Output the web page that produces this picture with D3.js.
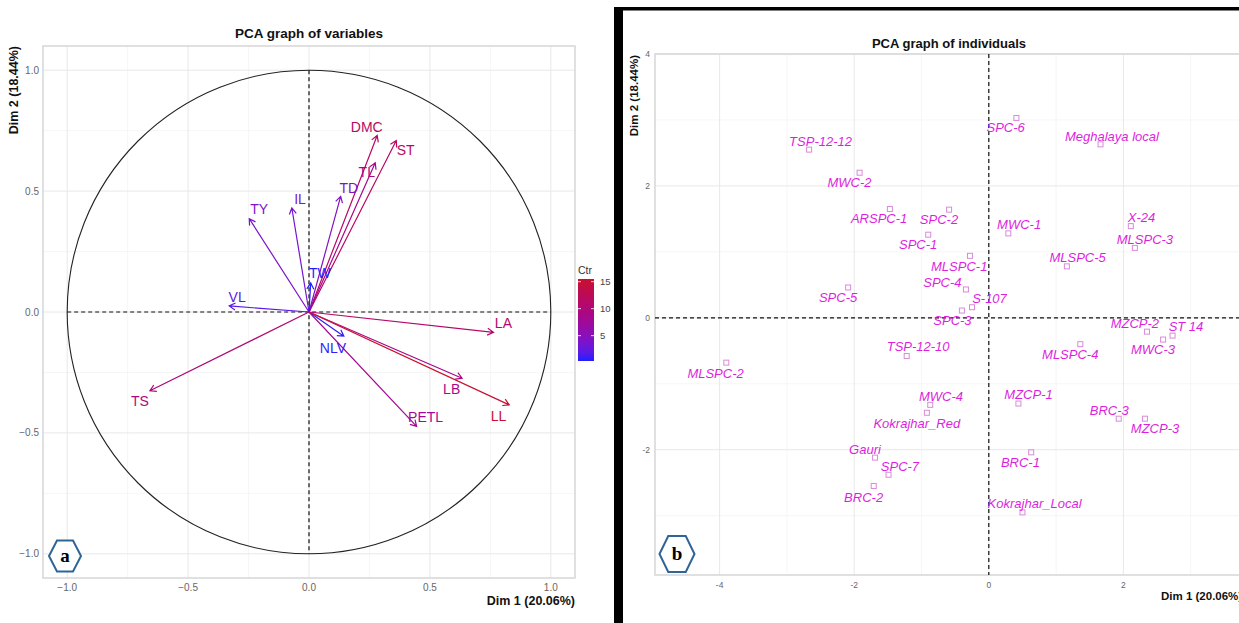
<!DOCTYPE html>
<html>
<head>
<meta charset="utf-8">
<script src="https://cdn.jsdelivr.net/npm/d3@7"></script>
<style>
  body { margin: 0; background: #fff; }
  svg { display: block; font-family: "Liberation Sans", Arial, sans-serif; }
</style>
</head>
<body>
<div id="wrapper"></div>
<script>
// ---- panel a: variables ----
const varNames = ["DMC", "ST", "TL", "TD", "IL", "TY", "TW", "VL", "LA", "NLV", "LB", "LL", "PETL", "TS"];
const varDim1 = [0.282, 0.361, 0.274, 0.131, -0.071, -0.247, 0.007, -0.330, 0.763, 0.144, 0.633, 0.828, 0.445, -0.658];
const varDim2 = [0.730, 0.709, 0.617, 0.478, 0.430, 0.386, 0.120, 0.025, -0.084, -0.100, -0.274, -0.384, -0.473, -0.326];
const varCtr = [11.4, 11.7, 8.5, 4.5, 3.5, 3.9, 0.3, 2.0, 10.9, 0.6, 8.8, 15.5, 7.8, 10.0];
const varLabX = [0.239, 0.400, 0.239, 0.165, -0.037, -0.206, 0.045, -0.297, 0.804, 0.099, 0.590, 0.784, 0.482, -0.699];
const varLabY = [0.767, 0.668, 0.581, 0.511, 0.466, 0.425, 0.161, 0.062, -0.045, -0.148, -0.318, -0.429, -0.433, -0.370];
const varTicks = [-1.0, -0.5, 0.0, 0.5, 1.0];
const ctrTicks = [5, 10, 15];

// ---- panel b: individuals ----
const indNames = ["SPC-6", "Meghalaya local", "TSP-12-12", "MWC-2", "ARSPC-1", "SPC-2", "SPC-1", "MWC-1", "X-24",
  "MLSPC-3", "MLSPC-5", "MLSPC-1", "SPC-4", "S-107", "SPC-5", "SPC-3", "MZCP-2", "ST 14", "MWC-3", "MLSPC-4",
  "TSP-12-10", "MLSPC-2", "MWC-4", "Kokrajhar_Red", "MZCP-1", "BRC-3", "MZCP-3", "Gauri", "SPC-7", "BRC-2",
  "BRC-1", "Kokrajhar_Local"];
const indDim1 = [0.41, 1.66, -2.67, -1.92, -1.47, -0.59, -0.90, 0.29, 2.11, 2.17, 1.16, -0.28, -0.34, -0.25, -2.09,
  -0.40, 2.35, 2.73, 2.59, 1.36, -1.22, -3.90, -0.87, -0.92, 0.44, 1.93, 2.32, -1.69, -1.49, -1.71, 0.63, 0.50];
const indDim2 = [3.03, 2.63, 2.55, 2.20, 1.65, 1.64, 1.26, 1.28, 1.39, 1.06, 0.78, 0.94, 0.43, 0.16, 0.46, 0.11,
  -0.21, -0.27, -0.33, -0.40, -0.58, -0.68, -1.32, -1.44, -1.30, -1.53, -1.53, -2.12, -2.38, -2.55, -2.04, -2.95];
const indLabX = [0.25, 1.83, -2.50, -2.07, -1.63, -0.74, -1.05, 0.45, 2.27, 2.32, 1.32, -0.44, -0.69, 0.01, -2.24,
  -0.54, 2.17, 2.93, 2.44, 1.21, -1.05, -4.06, -0.71, -1.07, 0.59, 1.79, 2.47, -1.84, -1.32, -1.86, 0.47, 0.68];
const indLabY = [2.89, 2.75, 2.68, 2.05, 1.50, 1.49, 1.11, 1.42, 1.52, 1.19, 0.91, 0.78, 0.53, 0.30, 0.31, -0.04,
  -0.08, -0.13, -0.48, -0.55, -0.44, -0.85, -1.19, -1.60, -1.17, -1.40, -1.68, -1.99, -2.25, -2.72, -2.19, -2.82];
const indXTicks = [-4, -2, 0, 2];
const indYTicks = [-2, 0, 2, 4];

const width = 1239, height = 623;
const svg = d3.select("#wrapper").append("svg")
  .attr("width", width)
  .attr("height", height);
svg.append("rect").attr("width", width).attr("height", height).attr("fill", "#fff");

const gridMajor = "#e8e8e8", gridMinor = "#f4f4f4", tickCol = "#666";

// ================= panel a =================
const xA = d3.scaleLinear().domain([-1.1, 1.1]).range([43, 575]);
const yA = d3.scaleLinear().domain([-1.1, 1.1]).range([578, 46]);
const ctrColor = d3.scaleLinear()
  .domain(d3.extent(varCtr))
  .range(["#1f1fff", "#c8102e"])
  .interpolate(d3.interpolateLab);

const gA = svg.append("g");
const minorA = [-0.75, -0.25, 0.25, 0.75];
gA.selectAll(".minx").data(minorA).join("line")
  .attr("x1", d => xA(d)).attr("x2", d => xA(d)).attr("y1", yA(1.1)).attr("y2", yA(-1.1))
  .attr("stroke", gridMinor).attr("stroke-width", 0.8);
gA.selectAll(".miny").data(minorA).join("line")
  .attr("y1", d => yA(d)).attr("y2", d => yA(d)).attr("x1", xA(-1.1)).attr("x2", xA(1.1))
  .attr("stroke", gridMinor).attr("stroke-width", 0.8);
gA.selectAll(".majx").data(varTicks).join("line")
  .attr("x1", d => xA(d)).attr("x2", d => xA(d)).attr("y1", yA(1.1)).attr("y2", yA(-1.1))
  .attr("stroke", gridMajor).attr("stroke-width", 1);
gA.selectAll(".majy").data(varTicks).join("line")
  .attr("y1", d => yA(d)).attr("y2", d => yA(d)).attr("x1", xA(-1.1)).attr("x2", xA(1.1))
  .attr("stroke", gridMajor).attr("stroke-width", 1);
gA.append("rect")
  .attr("x", xA(-1.1)).attr("y", yA(1.1))
  .attr("width", xA(1.1) - xA(-1.1)).attr("height", yA(-1.1) - yA(1.1))
  .attr("fill", "none").attr("stroke", "#d6d6d6").attr("stroke-width", 1.5);

// tick labels
gA.selectAll(".tx").data(varTicks).join("text")
  .attr("x", d => xA(d)).attr("y", 591)
  .attr("text-anchor", "middle").attr("font-size", 10).attr("fill", tickCol)
  .text(d => d3.format(".1f")(d));
gA.selectAll(".ty").data(varTicks).join("text")
  .attr("x", 39).attr("y", d => yA(d) + 3.5)
  .attr("text-anchor", "end").attr("font-size", 10).attr("fill", tickCol)
  .text(d => d3.format(".1f")(d));

// circle + dashed axes
gA.append("circle")
  .attr("cx", xA(0)).attr("cy", yA(0)).attr("r", xA(1) - xA(0))
  .attr("fill", "none").attr("stroke", "#222").attr("stroke-width", 1.1);
gA.append("line").attr("x1", xA(-1)).attr("x2", xA(1)).attr("y1", yA(0)).attr("y2", yA(0))
  .attr("stroke", "#111").attr("stroke-width", 1.2).attr("stroke-dasharray", "4,3");
gA.append("line").attr("x1", xA(0)).attr("x2", xA(0)).attr("y1", yA(1)).attr("y2", yA(-1))
  .attr("stroke", "#111").attr("stroke-width", 1.2).attr("stroke-dasharray", "4,3");

// arrows
function arrowPath(x0, y0, x1, y1) {
  const a = Math.atan2(y1 - y0, x1 - x0), len = 7, sp = Math.PI / 6;
  const h1x = x1 - len * Math.cos(a - sp), h1y = y1 - len * Math.sin(a - sp);
  const h2x = x1 - len * Math.cos(a + sp), h2y = y1 - len * Math.sin(a + sp);
  return `M${x0},${y0}L${x1},${y1}M${h1x},${h1y}L${x1},${y1}L${h2x},${h2y}`;
}
gA.selectAll(".arrow").data(varNames).join("path")
  .attr("d", (d, i) => arrowPath(xA(0), yA(0), xA(varDim1[i]), yA(varDim2[i])))
  .attr("fill", "none")
  .attr("stroke", (d, i) => ctrColor(varCtr[i]))
  .attr("stroke-width", 1.2);
gA.selectAll(".vlab").data(varNames).join("text")
  .attr("x", (d, i) => xA(varLabX[i])).attr("y", (d, i) => yA(varLabY[i]))
  .attr("text-anchor", "middle").attr("dominant-baseline", "central")
  .attr("font-size", 14)
  .attr("fill", (d, i) => ctrColor(varCtr[i]))
  .text(d => d);

// titles
svg.append("text").attr("x", 309).attr("y", 38).attr("text-anchor", "middle")
  .attr("font-size", 13.5).attr("font-weight", "bold").attr("fill", "#111").text("PCA graph of variables");
svg.append("text").attr("transform", "translate(18,46) rotate(-90)").attr("text-anchor", "end")
  .attr("font-size", 12.5).attr("font-weight", "bold").attr("fill", "#111").text("Dim 2 (18.44%)");
svg.append("text").attr("x", 575).attr("y", 605).attr("text-anchor", "end")
  .attr("font-size", 12.5).attr("font-weight", "bold").attr("fill", "#111").text("Dim 1 (20.06%)");

// colour bar legend
const defs = svg.append("defs");
const grad = defs.append("linearGradient").attr("id", "ctrGrad")
  .attr("x1", 0).attr("y1", 1).attr("x2", 0).attr("y2", 0);
const ctrExt = d3.extent(varCtr);
d3.range(0, 1.0001, 0.1).forEach(t => {
  grad.append("stop").attr("offset", t)
    .attr("stop-color", ctrColor(ctrExt[0] + t * (ctrExt[1] - ctrExt[0])));
});
const ctrScale = d3.scaleLinear().domain(ctrExt).range([361, 279]);
svg.append("rect").attr("x", 578).attr("y", ctrScale.range()[1])
  .attr("width", 16).attr("height", ctrScale.range()[0] - ctrScale.range()[1])
  .attr("fill", "url(#ctrGrad)");
svg.selectAll(".ctick").data(ctrTicks).join("g")
  .each(function (d) {
    const g = d3.select(this), y = ctrScale(d);
    g.append("line").attr("x1", 578).attr("x2", 581).attr("y1", y).attr("y2", y).attr("stroke", "#fff").attr("stroke-width", 0.8);
    g.append("line").attr("x1", 591).attr("x2", 594).attr("y1", y).attr("y2", y).attr("stroke", "#fff").attr("stroke-width", 0.8);
    g.append("text").attr("x", 600).attr("y", y + 3.5).attr("font-size", 9.5).attr("fill", "#444").text(d);
  });
svg.append("text").attr("x", 578).attr("y", 274).attr("font-size", 10.5).attr("fill", "#333").text("Ctr");

// ================= panel b =================
const xB = d3.scaleLinear().domain([-4.96, 4.0]).range([655, 655 + 8.96 * 67.3]);
const yB = d3.scaleLinear().domain([-3.9, 4.0]).range([575, 54]);
const gB = svg.append("g");
const xMinorB = [-3, -1, 1, 3], yMinorB = [-3, -1, 1, 3];
gB.selectAll(".minx").data(xMinorB).join("line")
  .attr("x1", d => xB(d)).attr("x2", d => xB(d)).attr("y1", yB(4)).attr("y2", yB(-3.9))
  .attr("stroke", gridMinor).attr("stroke-width", 0.8);
gB.selectAll(".miny").data(yMinorB).join("line")
  .attr("y1", d => yB(d)).attr("y2", d => yB(d)).attr("x1", xB(-4.96)).attr("x2", width)
  .attr("stroke", gridMinor).attr("stroke-width", 0.8);
gB.selectAll(".majx").data(indXTicks).join("line")
  .attr("x1", d => xB(d)).attr("x2", d => xB(d)).attr("y1", yB(4)).attr("y2", yB(-3.9))
  .attr("stroke", gridMajor).attr("stroke-width", 1);
gB.selectAll(".majy").data(indYTicks).join("line")
  .attr("y1", d => yB(d)).attr("y2", d => yB(d)).attr("x1", xB(-4.96)).attr("x2", width)
  .attr("stroke", gridMajor).attr("stroke-width", 1);
gB.append("rect")
  .attr("x", xB(-4.96)).attr("y", yB(4))
  .attr("width", width + 20 - xB(-4.96)).attr("height", yB(-3.9) - yB(4))
  .attr("fill", "none").attr("stroke", "#d6d6d6").attr("stroke-width", 1.5);

gB.selectAll(".tx").data(indXTicks).join("text")
  .attr("x", d => xB(d)).attr("y", 588)
  .attr("text-anchor", "middle").attr("font-size", 8.5).attr("fill", tickCol).text(d => d);
gB.selectAll(".ty").data(indYTicks).join("text")
  .attr("x", 650).attr("y", d => yB(d) + 3)
  .attr("text-anchor", "end").attr("font-size", 8.5).attr("fill", tickCol).text(d => d);

gB.append("line").attr("x1", xB(-4.96)).attr("x2", width).attr("y1", yB(0)).attr("y2", yB(0))
  .attr("stroke", "#111").attr("stroke-width", 1.2).attr("stroke-dasharray", "4,3");
gB.append("line").attr("x1", xB(0)).attr("x2", xB(0)).attr("y1", yB(4)).attr("y2", yB(-3.9))
  .attr("stroke", "#111").attr("stroke-width", 1.2).attr("stroke-dasharray", "4,3");

gB.selectAll(".pt").data(indNames).join("rect")
  .attr("x", (d, i) => xB(indDim1[i]) - 2.5).attr("y", (d, i) => yB(indDim2[i]) - 2.5)
  .attr("width", 5).attr("height", 5)
  .attr("fill", "none").attr("stroke", "#d98ad9").attr("stroke-width", 1);
gB.selectAll(".ilab").data(indNames).join("text")
  .attr("x", (d, i) => xB(indLabX[i])).attr("y", (d, i) => yB(indLabY[i]))
  .attr("text-anchor", "middle").attr("dominant-baseline", "central")
  .attr("font-size", 13).attr("font-style", "italic").attr("fill", "#dd1fdd")
  .text(d => d);

svg.append("text").attr("x", 949).attr("y", 48).attr("text-anchor", "middle")
  .attr("font-size", 13).attr("font-weight", "bold").attr("fill", "#111").text("PCA graph of individuals");
svg.append("text").attr("transform", "translate(638,55) rotate(-90)").attr("text-anchor", "end")
  .attr("font-size", 11.5).attr("font-weight", "bold").attr("fill", "#111").text("Dim 2 (18.44%)");
svg.append("text").attr("x", 1161).attr("y", 600)
  .attr("font-size", 11.5).attr("font-weight", "bold").attr("fill", "#111").text("Dim 1 (20.06%)");

// black frame between panels
svg.append("rect").attr("x", 614).attr("y", 7).attr("width", 9).attr("height", height - 7).attr("fill", "#000");
svg.append("rect").attr("x", 614).attr("y", 7).attr("width", width - 614).attr("height", 3.5).attr("fill", "#000");

// hexagon tags
function hexagon(cx, cy, w, h, label) {
  const pts = [[cx - w / 2, cy], [cx - w / 4, cy - h / 2], [cx + w / 4, cy - h / 2],
    [cx + w / 2, cy], [cx + w / 4, cy + h / 2], [cx - w / 4, cy + h / 2]];
  svg.append("polygon").attr("points", pts.map(p => p.join(",")).join(" "))
    .attr("fill", "#fff").attr("stroke", "#2f6497").attr("stroke-width", 2);
  svg.append("text").attr("x", cx).attr("y", cy + 6).attr("text-anchor", "middle")
    .attr("font-family", "'Liberation Serif', 'Times New Roman', serif")
    .attr("font-weight", "bold").attr("font-size", 19).attr("fill", "#000").text(label);
}
hexagon(65, 556, 32, 31, "a");
hexagon(677, 554, 35, 36, "b");
</script>
</body>
</html>
